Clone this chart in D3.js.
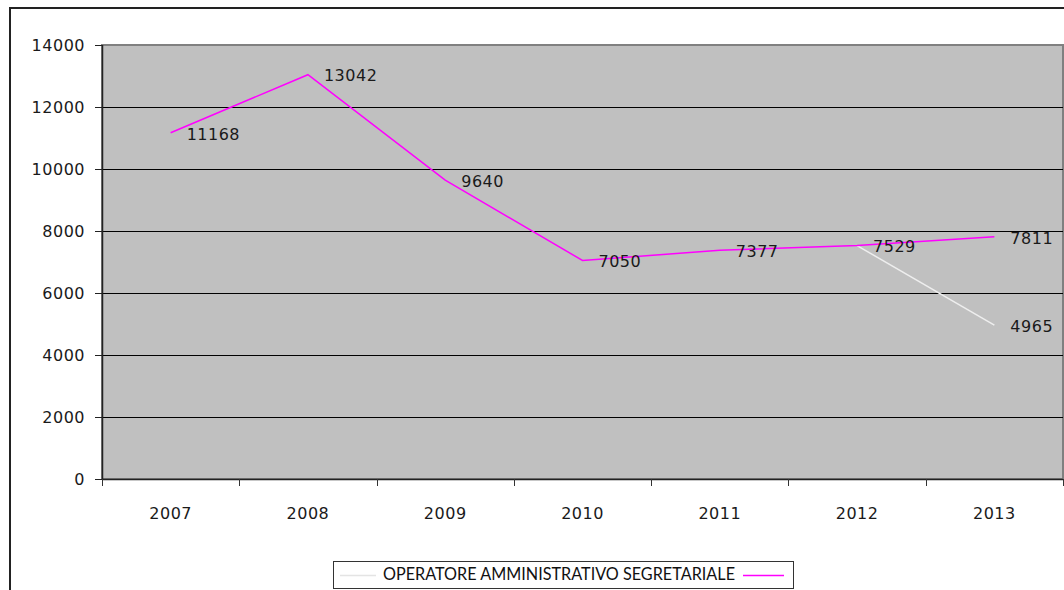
<!DOCTYPE html>
<html lang="it">
<head>
    <meta charset="UTF-8">
    <title>Operatore amministrativo segretariale</title>
    <script src="https://d3js.org/d3.v7.min.js"></script>
    <style>
        body {
            margin: 0;
            background-color: #fff;
        }
        svg text {
            font-family: "DejaVu Sans", sans-serif;
            fill: #1a1a1a;
        }
        .legenda text {
            font-family: Lato, "Open Sans", sans-serif;
            fill: #111;
        }
    </style>
</head>
<body>
<div id="chart"></div>
<script>
    // dati
    const anni = ["2007", "2008", "2009", "2010", "2011", "2012", "2013"];
    const serieRosa = [11168, 13042, 9640, 7050, 7377, 7529, 7811];
    const serieGrigia = [null, null, null, null, null, 7529, 4965];
    const tickY = [0, 2000, 4000, 6000, 8000, 10000, 12000, 14000];
    const nomeSerie = "OPERATORE AMMINISTRATIVO SEGRETARIALE";

    const width = 1064;
    const height = 590;
    const area = { left: 102, right: 1063, top: 45, bottom: 479 };

    const svg = d3.select("#chart")
        .append("svg")
        .attr("width", width)
        .attr("height", height);

    // cornice esterna (tagliata a destra e in basso)
    svg.append("rect")
        .attr("x", 10).attr("y", 8)
        .attr("width", 1100).attr("height", 640)
        .attr("fill", "none")
        .attr("stroke", "#222")
        .attr("stroke-width", 2);

    const x = d3.scaleBand()
        .domain(anni)
        .range([area.left, area.right]);

    const y = d3.scaleLinear()
        .domain([0, 14000])
        .range([area.bottom, area.top]);

    // sfondo area del grafico
    svg.append("rect")
        .attr("x", area.left).attr("y", area.top)
        .attr("width", area.right - area.left)
        .attr("height", area.bottom - area.top)
        .attr("fill", "#c0c0c0")
        .attr("stroke", "#808080")
        .attr("stroke-width", 2);

    // griglia
    svg.append("g")
        .selectAll("line")
        .data(tickY.filter(d => d > 0 && d < 14000))
        .join("line")
        .attr("x1", area.left).attr("x2", area.right)
        .attr("y1", d => Math.round(y(d)) + 0.5)
        .attr("y2", d => Math.round(y(d)) + 0.5)
        .attr("stroke", "#000")
        .attr("stroke-width", 1);

    // asse Y
    const assey = svg.append("g");
    assey.append("line")
        .attr("x1", area.left + 0.5).attr("x2", area.left + 0.5)
        .attr("y1", area.top).attr("y2", area.bottom)
        .attr("stroke", "#222").attr("stroke-width", 1.5);
    assey.selectAll("line.tick")
        .data(tickY)
        .join("line")
        .attr("class", "tick")
        .attr("x1", area.left - 7).attr("x2", area.left)
        .attr("y1", d => Math.round(y(d)) + 0.5)
        .attr("y2", d => Math.round(y(d)) + 0.5)
        .attr("stroke", "#222");
    assey.selectAll("text")
        .data(tickY)
        .join("text")
        .attr("x", 85)
        .attr("y", d => y(d))
        .attr("dy", "0.36em")
        .attr("text-anchor", "end")
        .attr("font-size", "16px")
        .attr("letter-spacing", "0.5px")
        .text(d => d);

    // asse X
    const assex = svg.append("g");
    assex.append("line")
        .attr("x1", area.left).attr("x2", area.right)
        .attr("y1", area.bottom + 0.5).attr("y2", area.bottom + 0.5)
        .attr("stroke", "#222").attr("stroke-width", 1.5);
    const bordi = anni.map(a => x(a)).concat([x(anni[anni.length - 1]) + x.bandwidth()]);
    assex.selectAll("line.tick")
        .data(bordi)
        .join("line")
        .attr("class", "tick")
        .attr("x1", d => Math.round(d) + 0.5).attr("x2", d => Math.round(d) + 0.5)
        .attr("y1", area.bottom).attr("y2", area.bottom + 7)
        .attr("stroke", "#333");
    assex.selectAll("text")
        .data(anni)
        .join("text")
        .attr("x", d => x(d) + x.bandwidth() / 2)
        .attr("y", 513)
        .attr("dy", "0.36em")
        .attr("text-anchor", "middle")
        .attr("font-size", "16px")
        .attr("letter-spacing", "0.5px")
        .text(d => d);

    const cx = i => x(anni[i]) + x.bandwidth() / 2;

    const linea = d3.line()
        .defined(d => d.v !== null)
        .x(d => cx(d.i))
        .y(d => y(d.v));

    const datiGrigi = serieGrigia.map((v, i) => ({ v, i }));
    const datiRosa = serieRosa.map((v, i) => ({ v, i }));

    svg.append("path")
        .datum(datiGrigi)
        .attr("d", linea)
        .attr("fill", "none")
        .attr("stroke", "#eeeeee")
        .attr("stroke-width", 1.5);

    svg.append("path")
        .datum(datiRosa)
        .attr("d", linea)
        .attr("fill", "none")
        .attr("stroke", "#ff00ff")
        .attr("stroke-width", 1.5);

    // etichette dei valori
    const etichette = datiRosa.concat(datiGrigi.filter((d, k) => d.v !== null && d.v !== serieRosa[k]));
    svg.append("g")
        .selectAll("text")
        .data(etichette)
        .join("text")
        .attr("x", d => cx(d.i) + 16)
        .attr("y", d => y(d.v) + 1)
        .attr("dy", "0.36em")
        .attr("font-size", "16px")
        .attr("letter-spacing", "0.5px")
        .text(d => d.v);

    // legenda
    const leg = svg.append("g").attr("class", "legenda");
    leg.append("rect")
        .attr("x", 333.5).attr("y", 561.5)
        .attr("width", 460).attr("height", 27)
        .attr("fill", "#fff")
        .attr("stroke", "#333");
    leg.append("line")
        .attr("x1", 340).attr("x2", 376)
        .attr("y1", 575.5).attr("y2", 575.5)
        .attr("stroke", "#e4e4e4").attr("stroke-width", 1.5);
    leg.append("text")
        .attr("x", 383)
        .attr("y", 574)
        .attr("dy", "0.36em")
        .attr("font-size", "18px")
        .attr("textLength", 352)
        .attr("lengthAdjust", "spacingAndGlyphs")
        .text(nomeSerie);
    leg.append("line")
        .attr("x1", 743).attr("x2", 784)
        .attr("y1", 575.5).attr("y2", 575.5)
        .attr("stroke", "#ff00ff").attr("stroke-width", 1.5);
</script>
</body>
</html>
